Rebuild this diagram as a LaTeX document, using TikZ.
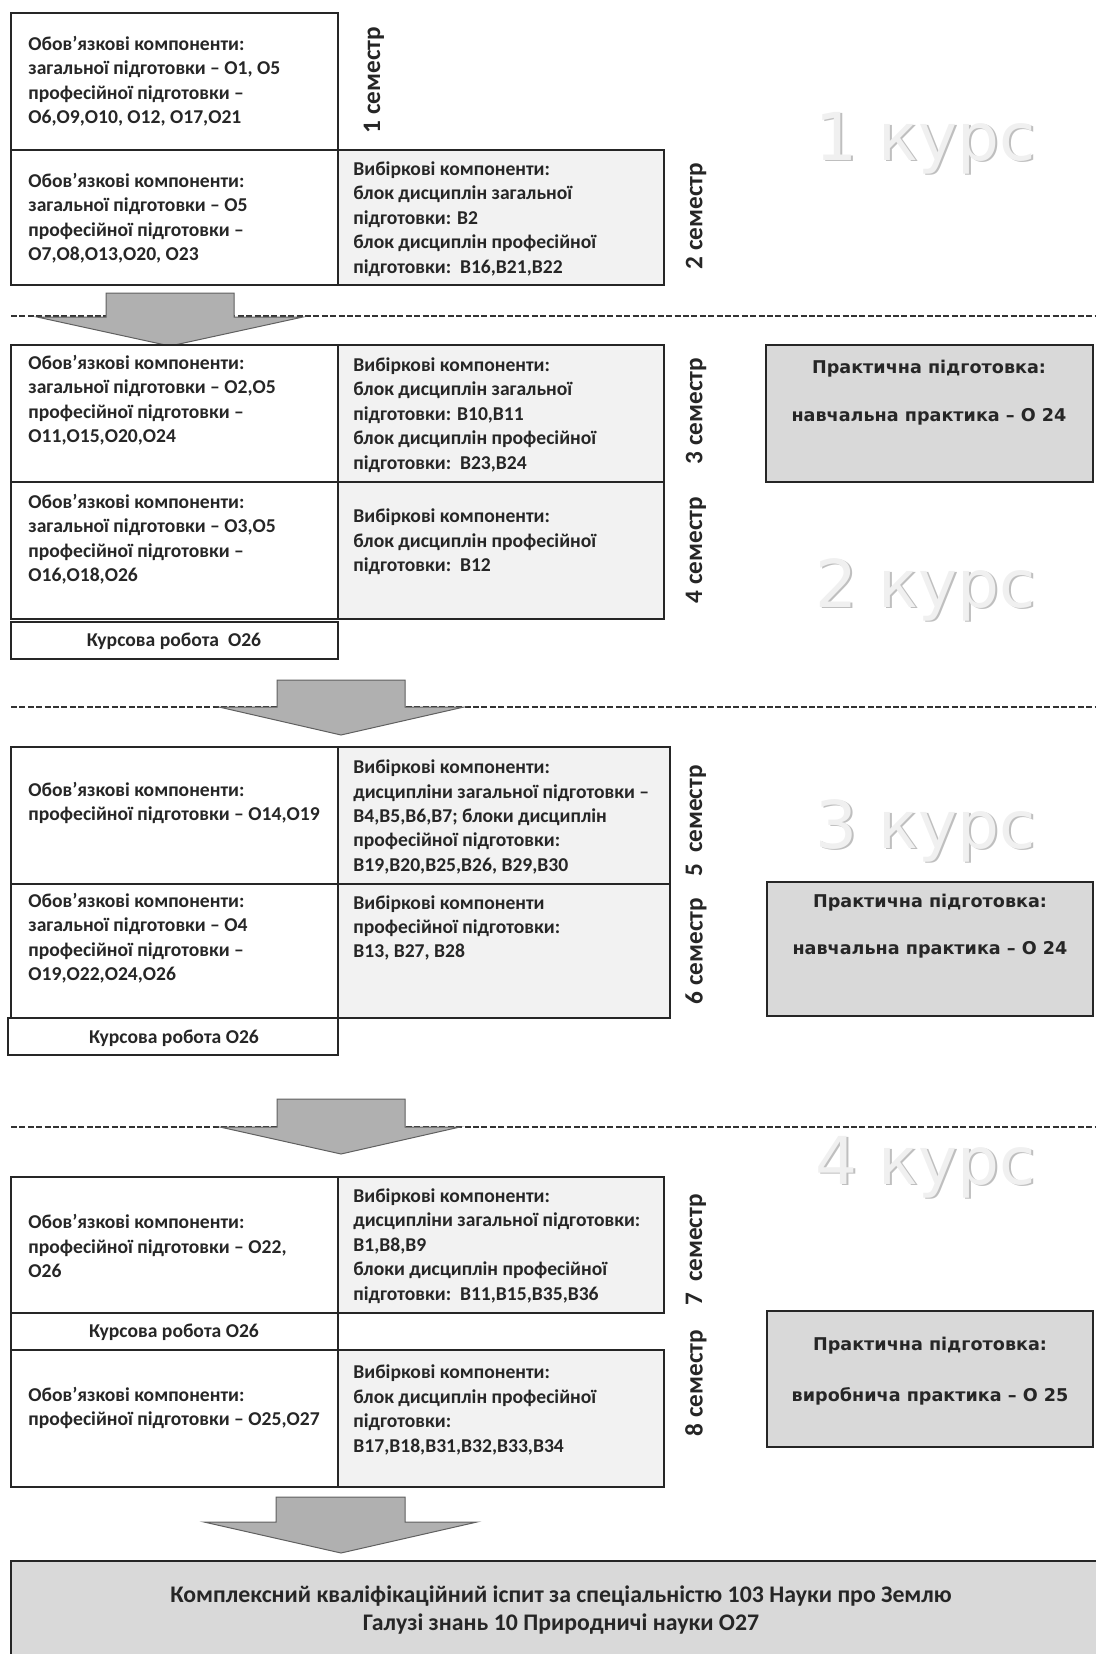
\documentclass[tikz,border=0pt]{standalone}
\usepackage{fontspec}
\setmainfont{Carlito}
\newfontfamily\verd{DejaVu Sans}
\begin{document}
\begin{tikzpicture}[x=0.5pt,y=-0.5pt,
  boxO/.style={draw=black!85, line width=1pt, fill=white},
  boxV/.style={draw=black!85, line width=1pt, fill=gray!10},
  boxP/.style={draw=black!85, line width=1pt, fill=gray!30},
  txt/.style={anchor=west, align=left, inner sep=0pt, font=\bfseries\fontsize{9.8}{12.2}\selectfont, text=black!85},
  ctxt/.style={align=center, inner sep=0pt, font=\bfseries\fontsize{9.8}{12.2}\selectfont, text=black!85},
  sem/.style={rotate=90, inner sep=0pt, font=\bfseries\fontsize{12.6}{15}\selectfont, text=black!85},
  kursshadow/.style={anchor=base, inner sep=0pt, font=\verd\fontsize{33}{36}\selectfont, text=gray!50},
  kurs/.style={anchor=base, inner sep=0pt, font=\verd\fontsize{33}{36}\selectfont, text=gray!12},
  ptxt/.style={inner sep=0pt, font=\verd\bfseries\fontsize{8.8}{10}\selectfont, text=black!85},
  bigarrow/.style={fill=gray!62, draw=gray!75!black, line width=0.5pt},
  sep/.style={line width=1pt, dash pattern=on 3pt off 1.2pt, draw=black!80}
]
\useasboundingbox (0,0) rectangle (1096,1654);

% separators
\draw[sep] (11,316) -- (1096,316);
\draw[sep] (11,707) -- (1096,707);
\draw[sep] (11,1127) -- (1096,1127);

% block arrows
\path[bigarrow] (106,293) -- (234,293) -- (234,317) -- (303,317) -- (170,346) -- (37,317) -- (106,317) -- cycle;
\path[bigarrow] (277,680) -- (405,680) -- (405,707) -- (464,707) -- (341,735) -- (219,707) -- (277,707) -- cycle;
\path[bigarrow] (277,1099) -- (405,1099) -- (405,1127) -- (460,1127) -- (341,1154) -- (220,1127) -- (277,1127) -- cycle;
\path[bigarrow] (276,1497) -- (405,1497) -- (405,1522) -- (477,1522) -- (341,1553) -- (204,1522) -- (276,1522) -- cycle;

% ---------- 1 курс ----------
\path[boxO] (11,13) rectangle (338,150);
\path[boxO] (11,150) rectangle (338,285);
\path[boxV] (338,150) rectangle (664,285);
\node[txt] (o1) at (28,81) {Обов’язкові компоненти:\\загальної підготовки – О1, О5\\професійної підготовки –\\О6,О9,О10, О12, О17,О21};
\node[txt] (o2) at (28,218) {Обов’язкові компоненти:\\загальної підготовки – О5\\професійної підготовки –\\О7,О8,О13,О20, О23};
\node[txt] (v2) at (353,219) {Вибіркові компоненти:\\блок дисциплін загальної\\підготовки: В2\\блок дисциплін професійної\\підготовки:\ \ В16,В21,В22};
\node[sem] (s1) at (374,80) {1 семестр};
\node[sem] (s2) at (696,216) {2 семестр};
\node[kursshadow] at (927.5,161.5) {1 курс};
\node[kurs] (k1) at (926,160) {1 курс};

% ---------- 2 курс ----------
\path[boxO] (11,345) rectangle (338,482);
\path[boxV] (338,345) rectangle (664,482);
\path[boxO] (11,482) rectangle (338,619);
\path[boxV] (338,482) rectangle (664,619);
\path[boxO] (11,622) rectangle (338,659);
\node[txt] (o3) at (28,400) {Обов’язкові компоненти:\\загальної підготовки – О2,О5\\професійної підготовки –\\О11,О15,О20,О24};
\node[txt] (v3) at (353,415) {Вибіркові компоненти:\\блок дисциплін загальної\\підготовки: В10,В11\\блок дисциплін професійної\\підготовки:\ \ В23,В24};
\node[txt] (o4) at (28,539) {Обов’язкові компоненти:\\загальної підготовки – О3,О5\\професійної підготовки –\\О16,О18,О26};
\node[txt] (v4) at (353,542) {Вибіркові компоненти:\\блок дисциплін професійної\\підготовки:\ \ В12};
\node[ctxt] (c2) at (174,641) {Курсова робота\ \ О26};
\node[sem] (s3) at (696,411) {3 семестр};
\node[sem] (s4) at (696,550) {4 семестр};
\path[boxP] (766,345) rectangle (1093,482);
\node[ptxt] (p1a) at (929,369) {Практична підготовка:};
\node[ptxt] (p1b) at (929,417) {навчальна практика – О 24};
\node[kursshadow] at (927.5,608.5) {2 курс};
\node[kurs] (k2) at (926,607) {2 курс};

% ---------- 3 курс ----------
\path[boxO] (11,747) rectangle (338,884);
\path[boxV] (338,747) rectangle (670,884);
\path[boxO] (11,884) rectangle (338,1018);
\path[boxV] (338,884) rectangle (670,1018);
\path[boxO] (8,1018) rectangle (338,1055);
\node[txt] (o5) at (28,803) {Обов’язкові компоненти:\\професійної підготовки – О14,О19};
\node[txt] (v5) at (353,817) {Вибіркові компоненти:\\дисципліни загальної підготовки –\\В4,В5,В6,В7; блоки дисциплін\\професійної підготовки:\\В19,В20,В25,В26, В29,В30};
\node[txt] (o6) at (28,938) {Обов’язкові компоненти:\\загальної підготовки – О4\\професійної підготовки –\\О19,О22,О24,О26};
\node[txt] (v6) at (353,928) {Вибіркові компоненти\\професійної підготовки:\\В13, В27, В28};
\node[ctxt] (c3) at (174,1038) {Курсова робота О26};
\node[sem] (s5) at (696,821) {5\ \ семестр};
\node[sem] (s6) at (696,951) {6 семестр};
\path[boxP] (767,882) rectangle (1093,1016);
\node[ptxt] (p2a) at (930,903) {Практична підготовка:};
\node[ptxt] (p2b) at (930,950) {навчальна практика – О 24};
\node[kursshadow] at (927.5,849.5) {3 курс};
\node[kurs] (k3) at (926,848) {3 курс};

% ---------- 4 курс ----------
\path[boxO] (11,1177) rectangle (338,1313);
\path[boxV] (338,1177) rectangle (664,1313);
\path[boxO] (11,1313) rectangle (338,1350);
\path[boxO] (11,1350) rectangle (338,1487);
\path[boxV] (338,1350) rectangle (664,1487);
\node[txt] (o7) at (28,1246) {Обов’язкові компоненти:\\професійної підготовки – О22,\\О26};
\node[txt] (v7) at (353,1246) {Вибіркові компоненти:\\дисципліни загальної підготовки:\\В1,В8,В9\\блоки дисциплін професійної\\підготовки:\ \ В11,В15,В35,В36};
\node[ctxt] (c4) at (174,1332) {Курсова робота О26};
\node[txt] (o8) at (28,1408) {Обов’язкові компоненти:\\професійної підготовки – О25,О27};
\node[txt] (v8) at (353,1410) {Вибіркові компоненти:\\блок дисциплін професійної\\підготовки:\\В17,В18,В31,В32,В33,В34};
\node[sem] (s7) at (696,1250) {7\ \ семестр};
\node[sem] (s8) at (696,1383) {8 семестр};
\path[boxP] (767,1311) rectangle (1093,1447);
\node[ptxt] (p3a) at (930,1346) {Практична підготовка:};
\node[ptxt] (p3b) at (930,1396) {виробнича практика – О 25};
\node[kursshadow] at (927.5,1185.5) {4 курс};
\node[kurs] (k4) at (926,1184) {4 курс};

% ---------- final ----------
\path[boxP] (11,1561) rectangle (1100,1660);
\node[ctxt, font=\bfseries\fontsize{11.9}{14}\selectfont] (fin) at (561,1610) {Комплексний кваліфікаційний іспит за спеціальністю 103 Науки про Землю\\Галузі знань 10 Природничі науки О27};
\end{tikzpicture}
\end{document}
